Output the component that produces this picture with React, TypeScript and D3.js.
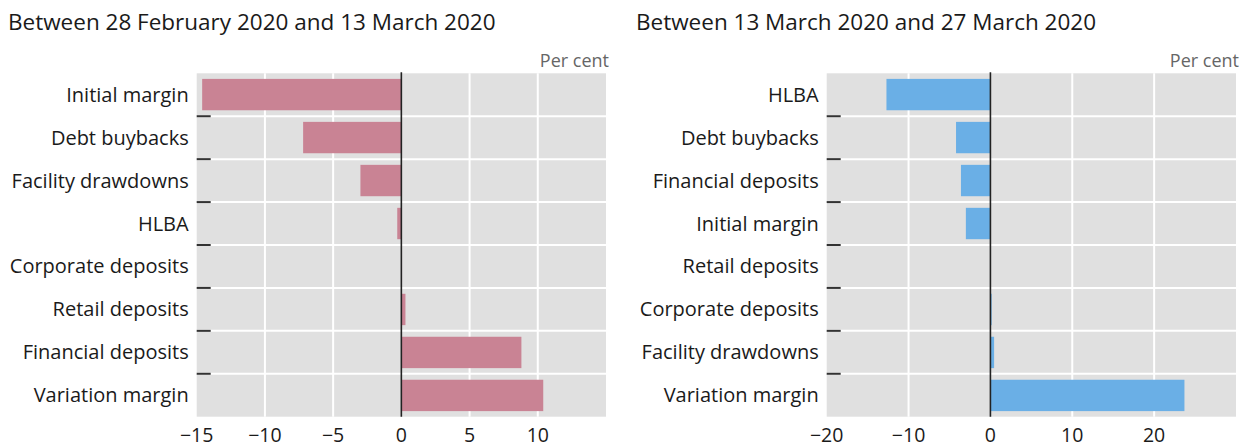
import React from "react";
import * as d3 from "d3";

const leftTitle = "Between 28 February 2020 and 13 March 2020";
const leftCategories = [
  "Initial margin",
  "Debt buybacks",
  "Facility drawdowns",
  "HLBA",
  "Corporate deposits",
  "Retail deposits",
  "Financial deposits",
  "Variation margin",
];
const leftValues = [-14.6, -7.2, -3.0, -0.3, 0.05, 0.3, 8.8, 10.4];
const leftTicks = [-15, -10, -5, 0, 5, 10];
const leftDomain = [-15, 15];

const rightTitle = "Between 13 March 2020 and 27 March 2020";
const rightCategories = [
  "HLBA",
  "Debt buybacks",
  "Financial deposits",
  "Initial margin",
  "Retail deposits",
  "Corporate deposits",
  "Facility drawdowns",
  "Variation margin",
];
const rightValues = [-12.7, -4.2, -3.6, -3.0, 0.05, 0.15, 0.45, 23.7];
const rightTicks = [-20, -10, 0, 10, 20];
const rightDomain = [-20, 30];

const FONT = "'Open Sans', 'Noto Sans', sans-serif";

type PanelProps = {
  title: string;
  categories: string[];
  values: number[];
  ticks: number[];
  domain: number[];
  color: string;
  titleX: number;
  x0: number;
  x1: number;
};

function Panel({ title, categories, values, ticks, domain, color, titleX, x0, x1 }: PanelProps) {
  const y0 = 73.3;
  const y1 = 416.7;
  const x = d3.scaleLinear().domain(domain).range([x0, x1]);
  const y = d3.scaleBand<string>().domain(categories).range([y0, y1]).paddingInner(0.27).paddingOuter(0.13);
  const step = (y1 - y0) / categories.length;
  const boundaries = d3.range(1, categories.length).map((k) => y0 + k * step);
  const grid = ticks.filter((t) => t !== 0 && t > domain[0] && t < domain[1]);
  return (
    <g>
      <text x={titleX} y={30} fontSize={22.5} fill="#1a1a1a" fontFamily={FONT}>
        {title}
      </text>
      <text x={x1 + 3} y={67} fontSize={18} fill="#666" textAnchor="end" fontFamily={FONT}>
        Per cent
      </text>
      <rect x={x0} y={y0} width={x1 - x0} height={y1 - y0} fill="#e0e0e0" />
      {grid.map((t) => (
        <line key={"g" + t} x1={x(t)} x2={x(t)} y1={y0} y2={y1} stroke="#fff" strokeWidth={2} />
      ))}
      {boundaries.map((b, i) => (
        <line key={"h" + i} x1={x0} x2={x1} y1={b} y2={b} stroke="#fff" strokeWidth={2} />
      ))}
      {categories.map((c, i) => {
        const v = values[i];
        const xa = x(Math.min(0, v));
        const xb = x(Math.max(0, v));
        return (
          <rect key={"b" + c} x={xa} y={y(c)} width={Math.max(0.5, xb - xa)} height={y.bandwidth()} fill={color} />
        );
      })}
      <line x1={x(0)} x2={x(0)} y1={y0 - 1} y2={y1} stroke="#222" strokeWidth={1.6} />
      {boundaries.map((b, i) => (
        <line key={"d" + i} x1={x0} x2={x0 + 14} y1={b} y2={b} stroke="#333" strokeWidth={2} />
      ))}
      {categories.map((c) => (
        <text
          key={"l" + c}
          x={x0 - 8}
          y={(y(c) as number) + y.bandwidth() / 2}
          dy="0.35em"
          fontSize={20}
          fill="#1a1a1a"
          textAnchor="end"
          fontFamily={FONT}
        >
          {c}
        </text>
      ))}
      {ticks.map((t) => (
        <text key={"t" + t} x={x(t)} y={442} fontSize={19.5} fill="#1a1a1a" textAnchor="middle" fontFamily={FONT}>
          {t < 0 ? "\u2212" + Math.abs(t) : String(t)}
        </text>
      ))}
    </g>
  );
}

export default function App() {
  return (
    <svg
      width={1252}
      height={445}
      style={{ position: "absolute", left: 0, top: 0, background: "#fff" }}
    >
      <Panel
        title={leftTitle}
        categories={leftCategories}
        values={leftValues}
        ticks={leftTicks}
        domain={leftDomain}
        color="#c98394"
        titleX={8}
        x0={196.7}
        x1={606}
      />
      <Panel
        title={rightTitle}
        categories={rightCategories}
        values={rightValues}
        ticks={rightTicks}
        domain={rightDomain}
        color="#6aafe6"
        titleX={636}
        x0={826.7}
        x1={1236}
      />
    </svg>
  );
}
